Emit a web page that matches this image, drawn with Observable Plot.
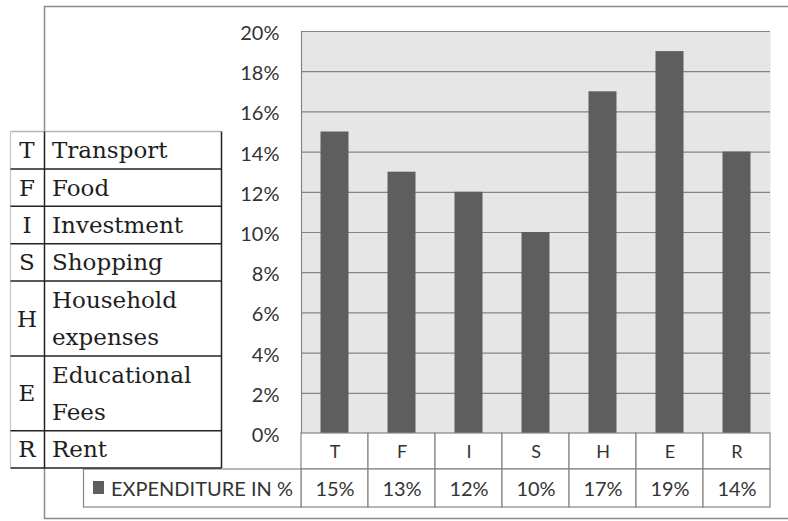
<!DOCTYPE html>
<html><head><meta charset="utf-8">
<script src="https://cdn.jsdelivr.net/npm/d3@7"></script>
<script src="https://cdn.jsdelivr.net/npm/@observablehq/plot@0.6"></script>
<style>body{margin:0;background:#fff}#chart{width:788px;height:521px;position:relative}</style>
</head><body><div id="chart"></div>
<script>
// ---- data ----
const categories = ["T","F","I","S","H","E","R"];
const expenditure = [15,13,12,10,17,19,14];
const yTicks = [0,2,4,6,8,10,12,14,16,18,20];
const seriesLabel = "EXPENDITURE IN %";
const legendCodes = ["T","F","I","S","H","E","R"];
const legendNames = ["Transport","Food","Investment","Shopping","Household\nexpenses","Educational\nFees","Rent"];

const data = categories.map((c,i)=>({cat:c, value:expenditure[i]}));

// ---- layout ----
const W=788, H=521, mL=301, mR=18, mT=31, mB=88;
const pxPerUnit = (H-mT-mB)/20;
const row1 = 36/pxPerUnit, row2 = 38/pxPerUnit;
const gridColor = "#858585", barColor = "#5e5e5e", textColor = "#333";

const chart = Plot.plot({
  width: W, height: H,
  marginLeft: mL, marginRight: mR, marginTop: mT, marginBottom: mB,
  style: {fontFamily: "Lato, 'Open Sans', sans-serif", fontSize: "18px", background: "transparent", overflow: "visible"},
  x: {domain: categories, padding: 0, axis: null},
  y: {domain: [0,20], axis: null},
  marks: [
    Plot.frame({fill: "#e6e6e6", stroke: null}),
    Plot.gridY(yTicks, {stroke: gridColor, strokeOpacity: 1, strokeWidth: 1.2}),
    Plot.frame({anchor: "left", stroke: gridColor, strokeWidth: 1.2}),
    Plot.barY(data, {x: "cat", y: "value", fill: barColor, insetLeft: 19.5, insetRight: 19.5}),
    Plot.axisY(yTicks, {label: null, tickSize: 0, tickPadding: 22, tickFormat: d => d + "%", fontSize: 20, fill: textColor, dy: 2}),
    Plot.barY(categories, {x: d => d, y1: () => 0, y2: () => -row1, fill: "#fff", stroke: gridColor, strokeWidth: 1.2}),
    Plot.barY(categories, {x: d => d, y1: () => -row1, y2: () => -row1-row2, fill: "#fff", stroke: gridColor, strokeWidth: 1.2}),
    Plot.text(categories, {x: d => d, y: () => -row1/2, text: d => d, fontSize: 18, fill: textColor, dy: 1}),
    Plot.text(data, {x: "cat", y: () => -row1-row2/2, text: d => d.value + "%", fontSize: 20, fill: textColor, dy: 1})
  ]
});
document.getElementById("chart").appendChild(chart);

const svg = d3.select(chart);
const ys = chart.scale("y");
const yRow1 = ys.apply(-row1), yRow2 = ys.apply(-row1-row2);

// outer chart border (behind everything)
svg.insert("rect", ":first-child")
  .attr("x", 44.5).attr("y", 6.5).attr("width", 800).attr("height", 512)
  .attr("fill", "#fff").attr("stroke", "#8c8c8c").attr("stroke-width", 1.5);

// legend cell of the data table
const lg = svg.append("g").attr("text-anchor", "start");
lg.append("rect").attr("x", 83.5).attr("y", yRow1).attr("width", mL - 83.5).attr("height", yRow2 - yRow1)
  .attr("fill", "#fff").attr("stroke", gridColor).attr("stroke-width", 1.2);
lg.append("rect").attr("x", 93).attr("y", (yRow1+yRow2)/2 - 7).attr("width", 11).attr("height", 13).attr("fill", barColor);
lg.append("text").attr("x", 111).attr("y", (yRow1+yRow2)/2 + 1).attr("dy", "0.35em")
  .attr("font-size", 20).attr("fill", textColor).text(seriesLabel);

// left code/name table
const tTop = 131.5, unitH = 37.4, tL = 10.5, tDiv = 44.5, tR = 221.5;
const units = legendNames.map(n => n.includes("\n") ? 2 : 1);
const tBottom = tTop + d3.sum(units) * unitH;
const tg = svg.append("g").attr("font-family", "'DejaVu Serif', serif").attr("font-size", 23).attr("fill", "#1e1e1e").attr("text-anchor", "start");
tg.append("rect").attr("x", tL).attr("y", tTop).attr("width", tR - tL).attr("height", tBottom - tTop).attr("fill", "#fff").attr("stroke", "none");
tg.append("line").attr("x1", tL).attr("x2", tR).attr("y1", tTop).attr("y2", tTop).attr("stroke", "#b5b5b5").attr("stroke-width", 1.5);
tg.append("line").attr("x1", tL).attr("x2", tL).attr("y1", tTop).attr("y2", tBottom).attr("stroke", "#c5c5c5").attr("stroke-width", 1.2);
tg.append("line").attr("x1", tDiv).attr("x2", tDiv).attr("y1", tTop).attr("y2", tBottom).attr("stroke", "#222").attr("stroke-width", 1.5);
tg.append("line").attr("x1", tR).attr("x2", tR).attr("y1", tTop).attr("y2", tBottom).attr("stroke", "#222").attr("stroke-width", 1.5);
let yy = tTop;
legendNames.forEach((name, i) => {
  const h = units[i] * unitH;
  tg.append("text").attr("x", 27).attr("y", yy + h/2 + 8).attr("text-anchor", "middle").text(legendCodes[i]);
  name.split("\n").forEach((ln, j) => {
    tg.append("text").attr("x", 52).attr("y", yy + unitH/2 + 8 + j*unitH).text(ln);
  });
  yy += h;
  tg.append("line").attr("x1", tL).attr("x2", tR).attr("y1", yy).attr("y2", yy).attr("stroke", "#222").attr("stroke-width", 1.5);
});
</script>
</body></html>
